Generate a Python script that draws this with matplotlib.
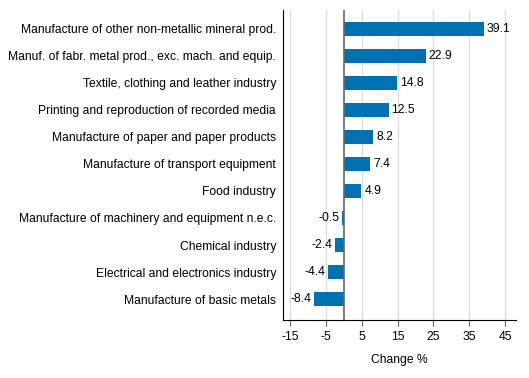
import matplotlib.pyplot as plt
import numpy as np

plt.rcParams['font.family'] = ['Liberation Sans', 'DejaVu Sans']

categories = ['Manufacture of other non-metallic mineral prod.',
              'Manuf. of fabr. metal prod., exc. mach. and equip.',
              'Textile, clothing and leather industry',
              'Printing and reproduction of recorded media',
              'Manufacture of paper and paper products',
              'Manufacture of transport equipment',
              'Food industry',
              'Manufacture of machinery and equipment n.e.c.',
              'Chemical industry',
              'Electrical and electronics industry',
              'Manufacture of basic metals']
values = [39.1, 22.9, 14.8, 12.5, 8.2, 7.4, 4.9, -0.5, -2.4, -4.4, -8.4]
xticks = [-15, -5, 5, 15, 25, 35, 45]

fs = 8.7
fig = plt.figure(figsize=(5.29, 3.78), dpi=100)
ax = fig.add_axes([0.535, 0.153, 0.44, 0.821])

y = np.arange(len(categories))
ax.barh(y, values, height=0.52, color='#0072b2', zorder=3)
for yi, v in zip(y, values):
    if v >= 0:
        ax.text(v + 0.8, yi, f'{v:.1f}', va='center', ha='left', fontsize=fs)
    else:
        ax.text(v - 0.8, yi, f'{v:.1f}', va='center', ha='right', fontsize=fs)

ax.axvline(0, color='#666666', lw=1.2, zorder=4)
ax.set_yticks(y)
ax.set_yticklabels(categories, fontsize=fs)
ax.set_ylim(len(categories) - 1 + 0.78, -0.7)
ax.set_xlim(-17, 48)
ax.set_xticks(xticks)
ax.set_xticklabels([str(t) for t in xticks], fontsize=fs)
ax.grid(axis='x', color='#dddddd', lw=1, zorder=0)
ax.tick_params(axis='y', length=0, pad=5)
ax.tick_params(axis='x', length=4, color='#666666')
ax.spines['top'].set_visible(False)
ax.spines['right'].set_visible(False)
ax.set_xlabel('Change %', fontsize=fs, labelpad=8)

fig.savefig('out.png', dpi=100)
